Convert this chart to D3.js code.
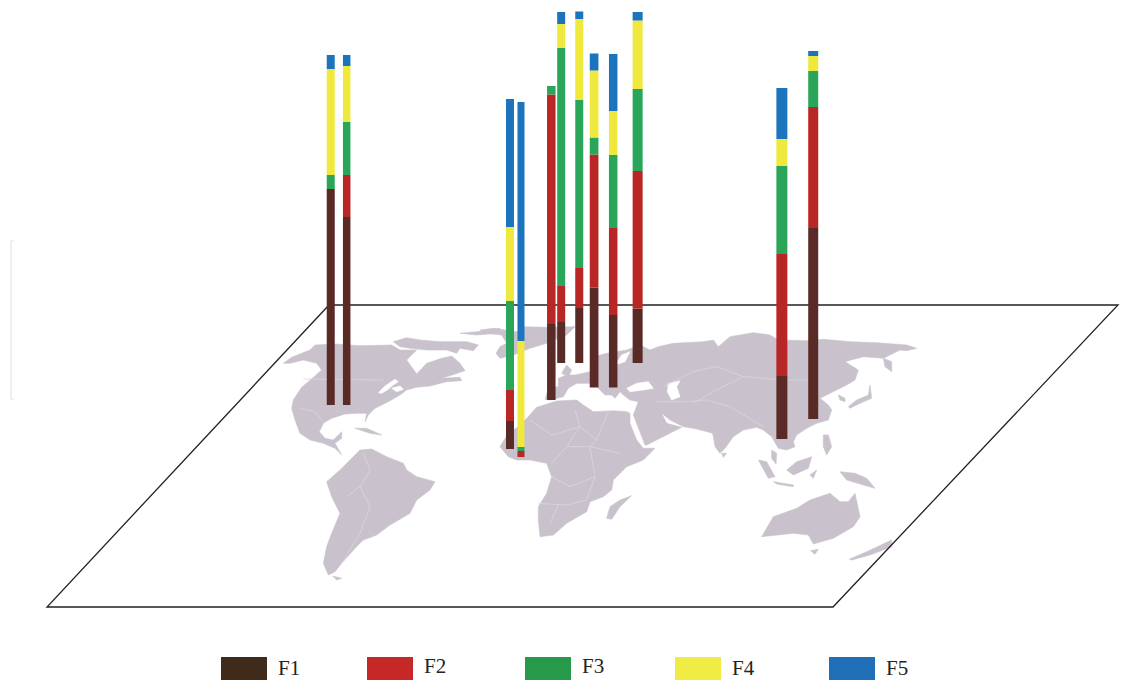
<!DOCTYPE html>
<meta charset="utf-8">
<style>
  html, body { margin: 0; background: #fff; overflow: hidden; }
  text { font-family: "Liberation Serif", serif; }
</style>
<svg width="1135" height="680"></svg>
<script src="https://d3js.org/d3.v7.min.js"></script>
<script>
// sampling sites, F1..F5
const sites = ["s1", "s2", "s3", "s4", "s5", "s6", "s7", "s8", "s9", "s10", "s11", "s12"];
const siteLon = [-113.6, -106, -8.6, 0.2, -10.8, -22.6, -14, 4, 13.1, 13.8, 116.4, 122.4];
const siteLat = [32, 32, 10, 6, 34.5, 53, 53, 40.75, 40.75, 53, 15, 25];
const barW = [8, 7.5, 8, 7, 8.5, 8, 8, 8.7, 8.5, 10, 11, 10];

const keys = ["F1", "F2", "F3", "F4", "F5"];
const F1 = [216, 188, 28, 0, 76, 41, 55, 100, 72.5, 54.5, 63, 191];
const F2 = [0, 42, 31, 6, 229.5, 36, 40, 133, 87, 137.5, 122, 121];
const F3 = [14, 53, 89, 4, 8.5, 238, 168, 17, 73, 82, 88, 36];
const F4 = [106, 56, 74, 106, 0, 24, 81, 67, 44, 68.5, 27, 15];
const F5 = [14, 11, 128, 239, 0, 12, 7.5, 17, 57, 8.5, 51, 5];

const barColor = ["#5a2a27", "#b92525", "#2ca65a", "#f0e93c", "#1b75bc"];
const legendColor = ["#402a1a", "#c62828", "#27994a", "#f0eb45", "#1f6fb8"];
const legendX = [221, 367, 525, 675, 829];
const legendBase = [675, 672.5, 672.5, 675, 675];

// land, each list in its own 3x crop frame
const westLand = [
  [[70,190],[95,172],[150,150],[165,135],[230,132],[300,137],[395,135],[420,150],[470,150],[440,180],[470,222],[500,190],[545,175],[575,168],[600,190],[615,212],[585,222],[545,235],[600,232],[605,242],[560,245],[510,258],[470,262],[440,270],[420,285],[385,305],[345,325],[325,345],[315,365],[320,340],[290,340],[255,342],[215,355],[190,370],[178,395],[195,415],[220,420],[245,395],[245,415],[225,430],[245,465],[225,445],[190,430],[150,420],[120,400],[105,360],[95,325],[100,300],[125,262],[165,228],[185,210],[170,190],[130,180],[90,190]],
  [[400,125],[440,113],[480,120],[540,125],[620,125],[655,135],[640,152],[600,145],[590,160],[560,150],[500,150],[450,145],[420,140]],
  [[600,100],[650,95],[720,85],[710,100],[650,105]],
  [[285,385],[320,385],[365,405],[330,400]],
  [[300,450],[335,447],[380,470],[430,490],[440,510],[470,530],[525,545],[510,570],[470,600],[450,640],[390,675],[350,705],[310,720],[285,745],[245,790],[225,815],[205,825],[190,790],[200,740],[215,700],[240,640],[215,590],[200,545],[240,510],[270,480]],
  [[218,828],[245,835],[230,840]]
];
const westLakes = [
  [[355,278],[375,258],[405,238],[415,245],[395,258],[385,268],[365,280]],
  [[395,265],[420,258],[430,268],[410,275]]
];
const midLand = [
  // Greenland
  [[0,30],[40,25],[110,35],[130,20],[200,22],[285,20],[260,45],[200,70],[150,85],[100,105],[60,115],[48,100],[60,80],[80,70],[65,45],[20,40]],
  // Africa
  [[140,295],[170,262],[230,243],[290,240],[310,255],[340,275],[400,272],[440,275],[450,280],[450,310],[470,360],[490,385],[525,385],[490,420],[440,440],[400,480],[395,510],[370,530],[330,545],[320,575],[260,610],[220,645],[180,650],[175,600],[175,560],[200,520],[215,470],[200,430],[150,420],[110,420],[85,410],[60,380],[85,340],[115,320]],
  // Madagascar
  [[455,527],[420,560],[395,598],[380,595],[390,560],[420,540]]
];
const eastLand = [
  // Eurasia
  [[45,238],[55,205],[85,200],[85,175],[110,165],[135,165],[180,155],[190,110],[230,100],[290,90],[330,75],[360,90],[385,80],[430,70],[520,65],[550,60],[565,80],[600,50],[670,38],[720,45],[745,60],[830,62],[880,58],[960,65],[1040,68],[1130,75],[1160,85],[1130,92],[1110,90],[1060,115],[1000,110],[945,125],[985,150],[975,180],[950,195],[900,220],[870,235],[895,255],[905,270],[895,300],[860,310],[830,325],[800,345],[790,365],[795,380],[770,390],[745,385],[725,350],[700,330],[680,322],[640,330],[610,350],[585,385],[570,400],[555,380],[548,340],[520,332],[490,325],[460,320],[420,300],[395,280],[410,310],[455,322],[350,375],[345,375],[310,285],[325,245],[300,240],[280,225],[270,215],[255,235],[235,215],[245,225],[225,225],[190,190],[140,190],[115,205],[100,230],[60,240]],
  [[685,420],[715,475],[735,470],[710,425]],
  [[725,390],[740,400],[738,432],[725,415]],
  [[730,485],[790,495],[790,500],[740,492]],
  [[770,450],[800,425],[845,410],[835,445],[790,465]],
  [[840,465],[860,450],[850,475]],
  [[880,345],[895,345],[905,380],[890,405],[880,380]],
  [[930,455],[975,460],[1010,475],[1035,505],[1000,495],[950,480]],
  [[695,650],[730,590],[800,565],[840,540],[900,520],[930,545],[955,545],[975,520],[990,590],[970,620],[910,655],[850,672],[835,645],[790,640]],
  [[842,692],[865,688],[855,703]],
  [[958,718],[1010,695],[1085,660],[1085,680],[1020,705],[965,720]],
  [[955,260],[980,240],[1015,225],[1020,195],[1025,235],[990,250],[960,265]],
  [[1060,115],[1085,125],[1085,155],[1065,140]],
  [[925,225],[945,235],[945,245],[930,240]],
  [[575,400],[590,400],[580,412]],
  [[95,160],[110,135],[125,150],[115,170]]
];
const eastSeas = [
  [[290,205],[320,190],[355,185],[370,205],[340,210],[300,215]],
  [[415,190],[450,183],[440,200],[450,230],[425,240],[412,215]],
  [[255,135],[275,105],[300,95],[285,125]]
];
const westBorders = [
  [[130,237],[370,240]],
  [[120,325],[165,335],[190,365]],
  [[310,460],[330,510],[300,560],[260,590]],
  [[300,560],[330,620],[300,700],[245,790]]
];
const midBorders = [
  [[285,270],[300,320],[260,380],[215,430]],
  [[385,275],[350,360],[330,380],[345,470],[320,540]],
  [[150,300],[215,345],[300,320],[350,360]],
  [[260,380],[330,380],[420,400]],
  [[215,470],[270,500],[345,470]],
  [[175,550],[260,555],[320,540]],
  [[235,555],[210,610]]
];
const eastBorders = [
  [[380,245],[470,245],[530,240],[600,260],[700,320]],
  [[490,155],[560,140],[640,170],[760,180],[870,180]],
  [[490,250],[550,215],[640,170]],
  [[400,200],[490,155]]
];

const svg = d3.select("svg");
const frame = (x0, y0) => {
  const fx = d3.scaleLinear([0, 3], [x0, x0 + 1]);
  const fy = d3.scaleLinear([0, 3], [y0, y0 + 1]);
  return d3.line(d => fx(d[0]), d => fy(d[1]));
};
const west = frame(260, 300), mid = frame(480, 320), east = frame(530, 320);

svg.append("defs").append("filter").attr("id", "soft")
  .append("feGaussianBlur").attr("stdDeviation", 0.45);

// faint scan mark on the left edge
svg.append("path")
  .attr("d", "M14,241H11V399H14")
  .attr("fill", "none").attr("stroke", "#efefef").attr("stroke-width", 2);

const mapG = svg.append("g").attr("filter", "url(#soft)");
const drawSet = (list, line, fill) => mapG.append("g").selectAll("path").data(list).join("path")
  .attr("d", d => line(d) + "Z").attr("fill", fill).attr("stroke", fill).attr("stroke-width", 0.6)
  .attr("stroke-linejoin", "round");
const drawLines = (list, line) => mapG.append("g").selectAll("path").data(list).join("path")
  .attr("d", line).attr("fill", "none").attr("stroke", "#dad5dd").attr("stroke-width", 0.8);

drawSet(westLand, west, "#c9c2cd");
drawSet(midLand, mid, "#c9c2cd");
drawSet(eastLand, east, "#c9c2cd");
drawSet(westLakes, west, "#fff");
drawSet(eastSeas, east, "#fff");
drawLines(westBorders, west);
drawLines(midBorders, mid);
drawLines(eastBorders, east);

// tilted plane: map coords -> screen, with the shear of the parallelogram
const shear = 283 / 302;
const uScale = d3.scaleLinear([0, 100], [663, 873]);
const latScale = d3.scaleLinear([0, 50], [469, 369]);
const project = (lon, lat) => {
  const y = latScale(lat);
  return [uScale(lon) - shear * (y - 305), y];
};

const planeCorners = [[329, 305], [1118, 305], [833, 607], [47, 607]];
svg.append("path")
  .attr("d", d3.line()(planeCorners) + "Z")
  .attr("fill", "none").attr("stroke", "#222").attr("stroke-width", 1.3);

// stacked columns
const rows = sites.map((s, i) => ({ site: s, F1: F1[i], F2: F2[i], F3: F3[i], F4: F4[i], F5: F5[i] }));
const stacked = d3.stack().keys(keys)(rows);
const h = d3.scaleLinear([0, 400], [0, 400]);
const color = d3.scaleOrdinal(keys, barColor);

svg.append("g").attr("filter", "url(#soft)")
  .selectAll("g").data(stacked).join("g")
    .attr("fill", d => color(d.key))
  .selectAll("rect").data(d => d).join("rect")
    .attr("x", (d, i) => project(siteLon[i], siteLat[i])[0] - barW[i] / 2)
    .attr("width", (d, i) => barW[i])
    .attr("y", (d, i) => project(siteLon[i], siteLat[i])[1] - h(d[1]))
    .attr("height", d => h(d[1]) - h(d[0]));

// legend, cut off by the bottom of the page as in the source
const legend = svg.append("g").selectAll("g").data(keys).join("g");
legend.append("rect")
  .attr("x", (d, i) => legendX[i]).attr("y", 657)
  .attr("width", 46).attr("height", 23)
  .attr("fill", (d, i) => legendColor[i]);
legend.append("text")
  .attr("x", (d, i) => legendX[i] + 57).attr("y", (d, i) => legendBase[i])
  .attr("font-size", 21).attr("fill", "#222")
  .text(d => d);
</script>
